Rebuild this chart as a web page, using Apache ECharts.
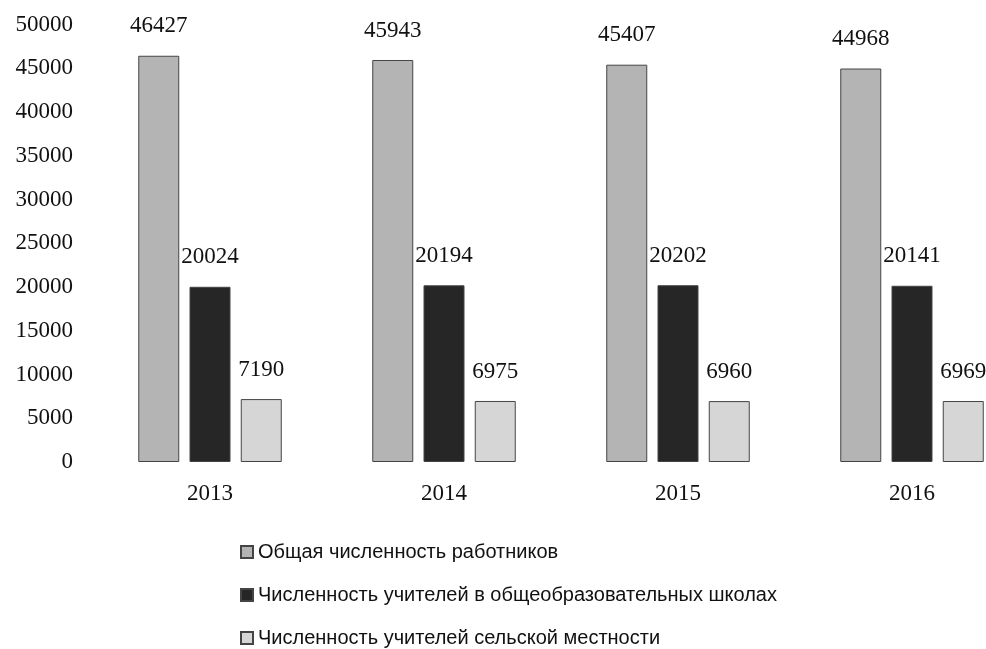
<!DOCTYPE html>
<html>
<head>
<meta charset="utf-8">
<script src="https://cdn.jsdelivr.net/npm/echarts@6/dist/echarts.min.js"></script>
<style>
  html, body { margin: 0; padding: 0; background: #fff; }
  #chart { width: 986px; height: 649px; }
</style>
</head>
<body>
<div id="chart"></div>
<script>
// годы
const years = ['2013', '2014', '2015', '2016'];
// численность
const totalWorkers = [46427, 45943, 45407, 44968];
const schoolTeachers = [20024, 20194, 20202, 20141];
const ruralTeachers = [7190, 6975, 6960, 6969];
const seriesNames = [
  'Общая численность работников',
  'Численность учителей в общеобразовательных школах',
  'Численность учителей сельской местности'
];
const yTicks = { min: 0, max: 50000, interval: 5000 };

const chart = echarts.init(document.getElementById('chart'));
const numFont = 'Liberation Serif';

function barSeries(name, data, color) {
  return {
    name: name,
    type: 'bar',
    data: data,
    barWidth: 41,
    barGap: '25%',
    itemStyle: { color: color, borderColor: '#444', borderWidth: 1 },
    label: {
      show: true,
      position: 'top',
      distance: 18,
      color: '#111',
      fontFamily: numFont,
      fontSize: 23
    }
  };
}

const option = {
  animation: false,
  backgroundColor: '#fff',
  // последняя группа уходит за правый край, как в оригинале
  grid: { left: 93, width: 936, top: 24.5, height: 437.5, outerBoundsMode: 'none', containLabel: false },
  legend: {
    orient: 'vertical',
    left: 240,
    top: 542,
    height: 200,
    padding: 0,
    icon: 'rect',
    itemWidth: 12,
    itemHeight: 12,
    itemGap: 23,
    textStyle: { fontFamily: 'Liberation Sans', fontSize: 20, color: '#111' },
    data: seriesNames
  },
  xAxis: {
    type: 'category',
    data: years,
    axisLine: { show: false },
    axisTick: { show: false },
    axisLabel: { margin: 20, color: '#111', fontFamily: numFont, fontSize: 23 }
  },
  yAxis: {
    type: 'value',
    min: yTicks.min,
    max: yTicks.max,
    interval: yTicks.interval,
    splitLine: { show: false },
    axisLine: { show: false },
    axisTick: { show: false },
    axisLabel: {
      margin: 20, color: '#111', fontFamily: numFont, fontSize: 23,
      formatter: v => String(v)
    }
  },
  series: [
    barSeries(seriesNames[0], totalWorkers, '#b4b4b4'),
    barSeries(seriesNames[1], schoolTeachers, '#262626'),
    barSeries(seriesNames[2], ruralTeachers, '#d6d6d6')
  ]
};

chart.setOption(option);
</script>
</body>
</html>
